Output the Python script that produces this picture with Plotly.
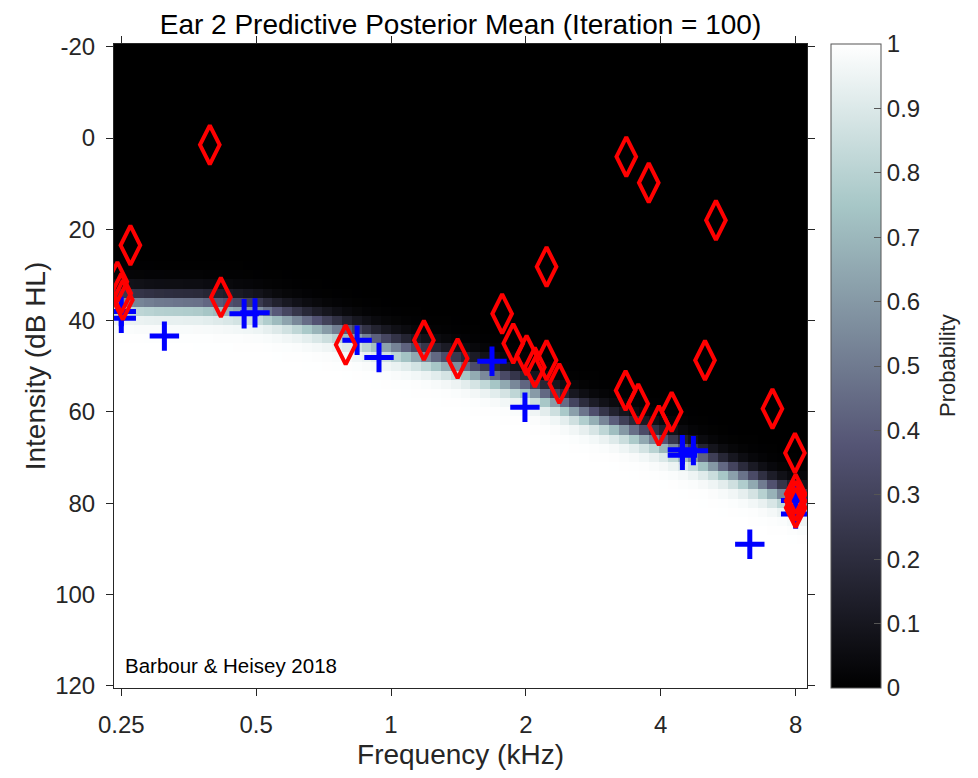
import numpy as np
import plotly.graph_objects as go

# ---- data ----
freq_ticks_khz = [0.25, 0.5, 1, 2, 4, 8]
freq_tick_text = ["0.25", "0.5", "1", "2", "4", "8"]
db_ticks = [-20, 0, 20, 40, 60, 80, 100, 120]
db_tick_text = ["-20", "0", "20", "40", "60", "80", "100", "120"]

# estimated 50% threshold (boundary of the posterior) at several frequencies
thr_freq_khz = [0.24, 0.30, 0.375, 0.5, 0.75, 1.0, 1.4, 2.0, 2.6, 4.0, 5.4, 8.0, 8.5]
thr_db = [35.5, 36.0, 36.2, 37.5, 41.8, 45.5, 49.7, 54.5, 59.5, 66.5, 72.0, 79.0, 80.0]
thr_spread_db = 1.5

# heard (blue +) tones
heard_freq_khz = [0.25, 0.25, 0.312, 0.47, 0.497, 0.84, 0.94, 1.68, 1.99,
                  4.47, 4.73, 4.47, 6.32, 8.0, 8.0]
heard_db = [38.0, 39.5, 43.4, 38.5, 38.3, 44.3, 48.1, 48.9, 59.0,
            68.3, 68.5, 69.5, 89.0, 82.4, 79.4]

# not heard (red diamonds) tones
miss_freq_khz = [0.394, 0.262, 0.245, 0.25, 0.252, 0.417, 0.792, 1.184, 1.408,
                 2.224, 1.77, 1.874, 2.007, 2.094, 2.224, 2.374, 3.338, 3.562,
                 3.96, 4.23, 5.02, 7.1, 7.97, 8.0, 8.0, 8.0, 3.35, 3.76, 5.31]
miss_db = [1.5, 23.5, 31.5, 34.0, 35.5, 34.9, 45.3, 44.3, 48.3,
           28.2, 38.5, 45.0, 47.6, 50.2, 48.7, 53.8, 55.3, 58.2,
           63.0, 60.0, 48.7, 59.3, 69.0, 78.0, 79.5, 81.0, 4.1, 9.8, 18.0]

# ---- probability surface on an image grid ----
x_lo, x_hi = -2.054, 3.084       # log2(kHz) axis extent
y_lo, y_hi = -20.6, 120.5
ncol = 70
dx = (x_hi - x_lo) / ncol
gx = x_lo + dx * (np.arange(ncol) + 0.5)
gy = np.arange(-20, 122, 2.0)
thr_col = np.interp(gx, np.log2(thr_freq_khz), thr_db)
Z = 1.0 / (1.0 + np.exp(-(gy[:, None] - thr_col[None, :]) / thr_spread_db))

bone = [[0.0, "rgb(0,0,0)"], [0.375, "rgb(84,84,116)"],
        [0.75, "rgb(167,199,199)"], [1.0, "rgb(255,255,255)"]]

FONT = "Liberation Sans, Arial, Helvetica, sans-serif"
AX = "#262626"

# page body adds an 8px offset; figure is sized to the remaining window
W, H = 970, 770
L, T = 106, 36
PW, PH = 693, 644

fig = go.Figure()
fig.add_trace(go.Heatmap(
    x=gx, y=gy, z=Z, zmin=0, zmax=1, zsmooth=False, colorscale=bone,
    colorbar=dict(x=(831 - 114) / PW, xanchor="left", xref="paper",
                  y=0.5, yanchor="middle", len=1.0, lenmode="fraction",
                  thickness=50, ypad=0, xpad=0,
                  outlinecolor="#555555", outlinewidth=1,
                  tickvals=[round(0.1 * i, 1) for i in range(11)],
                  ticks="inside", ticklen=7, tickcolor="#555555",
                  tickfont=dict(family=FONT, size=24, color=AX)),
    hoverinfo="skip"))

fig.add_trace(go.Scatter(
    x=np.log2(heard_freq_khz), y=heard_db, mode="markers", showlegend=False,
    marker=dict(symbol="cross-thin-open", size=21, color="#0000ff",
                line=dict(color="#0000ff", width=5))))

fig.add_trace(go.Scatter(
    x=np.log2(miss_freq_khz), y=miss_db, mode="markers", showlegend=False,
    marker=dict(symbol="diamond-tall-open", size=28, color="#ff0000",
                line=dict(color="#ff0000", width=4))))

axis_common = dict(showline=True, linecolor=AX, linewidth=1, mirror="ticks",
                   ticks="outside", ticklen=7, tickcolor=AX, showgrid=False,
                   zeroline=False, tickfont=dict(family=FONT, size=24, color=AX))

fig.update_layout(
    width=W, height=H,
    margin=dict(l=L, r=W - L - PW, t=T, b=H - T - PH),
    paper_bgcolor="white", plot_bgcolor="white",
    font=dict(family=FONT, color=AX),
    title=dict(text="Ear 2 Predictive Posterior Mean (Iteration = 100)",
               x=0.5, xref="paper", xanchor="center",
               y=1 - 16 / H, yref="container", yanchor="middle",
               font=dict(family=FONT, size=28, color="black")),
    xaxis=dict(range=[x_lo, x_hi], tickvals=np.log2(freq_ticks_khz).tolist(),
               ticktext=freq_tick_text, ticklabelstandoff=8,
               title=dict(text="Frequency (kHz)", standoff=7,
                          font=dict(family=FONT, size=28, color=AX)),
               **axis_common),
    yaxis=dict(range=[y_hi, y_lo], tickvals=db_ticks, ticktext=db_tick_text,
               ticklabelstandoff=6,
               title=dict(text="Intensity (dB HL)", standoff=1,
                          font=dict(family=FONT, size=28, color=AX)),
               **axis_common),
    annotations=[
        dict(text="Barbour & Heisey 2018", x=(123 - 114) / PW, y=(688 - 665) / PH,
             xref="paper", yref="paper", xanchor="left", yanchor="middle",
             showarrow=False, font=dict(family=FONT, size=20.5, color="black")),
        dict(text="Probability", x=(947 - 114) / PW, y=0.5, xref="paper", yref="paper",
             xanchor="center", yanchor="middle", textangle=-90, showarrow=False,
             font=dict(family=FONT, size=22, color=AX)),
    ],
)

fig.write_html("out.html")
